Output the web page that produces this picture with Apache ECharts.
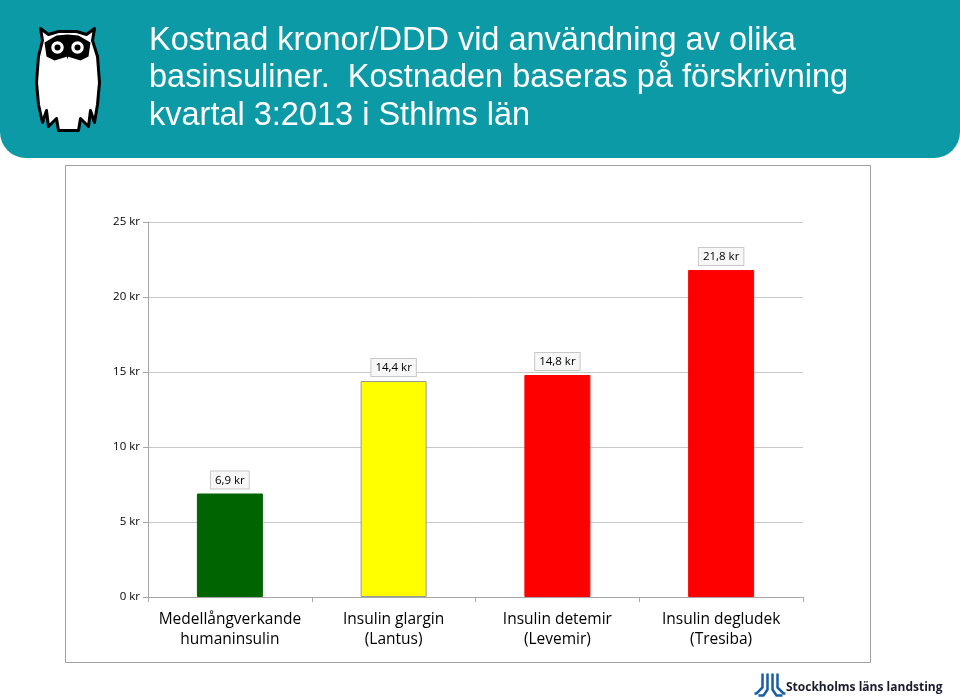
<!DOCTYPE html>
<html><head><meta charset="utf-8">
<script src="https://cdn.jsdelivr.net/npm/echarts@6/dist/echarts.min.js"></script>
<style>html,body{margin:0;padding:0;background:#fff}#c{width:960px;height:699px}</style>
</head><body><div id="c"></div>
<script>
const categories = ['Medellångverkande\nhumaninsulin', 'Insulin glargin\n(Lantus)', 'Insulin detemir\n(Levemir)', 'Insulin degludek\n(Tresiba)'];
const values = [6.9, 14.4, 14.8, 21.8];
const barColors = ['#006400', '#FFFF00', '#FF0000', '#FF0000'];
const titleLines = ['Kostnad kronor/DDD vid användning av olika', 'basinsuliner.  Kostnaden baseras på förskrivning', 'kvartal 3:2013 i Sthlms län'];

const chart = echarts.init(document.getElementById('c'));
const font = '"Open Sans", "Liberation Sans", sans-serif';
chart.setOption({
  animation: false,
  backgroundColor: '#fff',
  grid: { left: 148, right: 157, top: 222, bottom: 102 },
  xAxis: {
    type: 'category', data: categories,
    axisLine: { lineStyle: { color: '#a6a6a6' } },
    axisTick: { show: true, length: 5, lineStyle: { color: '#a6a6a6' } },
    axisLabel: { interval: 0, color: '#000', fontFamily: font, fontSize: 15.5, lineHeight: 20, margin: 13 }
  },
  yAxis: {
    type: 'value', min: 0, max: 25, interval: 5,
    axisLine: { show: true, lineStyle: { color: '#a6a6a6' } },
    axisTick: { show: true, length: 5, lineStyle: { color: '#a6a6a6' } },
    splitLine: { lineStyle: { color: '#c8c8c8' } },
    axisLabel: { color: '#000', fontFamily: font, fontSize: 11.5, margin: 8, formatter: v => v + ' kr' }
  },
  series: [{
    type: 'bar', barWidth: 66,
    data: values.map((v, i) => ({ value: v, itemStyle: { color: barColors[i], borderColor: i === 1 ? '#999' : barColors[i], borderWidth: 1 } })),
    label: {
      show: true, position: 'top', distance: 5,
      formatter: p => String(p.value).replace('.', ',') + ' kr',
      color: '#000', fontFamily: font, fontSize: 11.5,
      backgroundColor: '#f7f7f7', borderColor: '#c8c8c8', borderWidth: 1, padding: [3, 4, 2, 4]
    }
  }],
  graphic: [
    { type: 'rect', shape: { x: 0, y: -30, width: 960, height: 188, r: 26 }, style: { fill: '#0d9aa7' }, z: 0 },
    { type: 'rect', shape: { x: 65.5, y: 165.5, width: 805, height: 497 }, style: { fill: 'none', stroke: '#a0a0a0', lineWidth: 1 }, z: 0 },
    { type: 'text', left: 149, top: 22, style: { text: titleLines.join('\n'), fill: '#fff', font: '32.5px "Liberation Sans", Arial, sans-serif', lineHeight: 37.5 }, z: 5 },
    // owl
    { type: 'group', left: 35, top: 27, z: 5, children: [
      { type: 'polygon', shape: { points: [[4,2],[12,8],[22,5],[40,5],[50,8],[58,2],[56,14],[61,30],[63,56],[61,78],[58,96],[54,84],[52,100],[44,92],[42,104],[22,104],[20,92],[12,100],[10,84],[6,96],[2,78],[0,56],[2,30],[6,14]] }, style: { fill: '#fff', stroke: '#000', lineWidth: 3, lineJoin: 'round' } },
      { type: 'polygon', shape: { points: [[8,16],[20,9],[31,8],[42,9],[54,16],[52,30],[44,34],[31,30],[18,34],[10,30]] }, style: { fill: '#000' } },
      { type: 'circle', shape: { cx: 21, cy: 21, r: 7 }, style: { fill: '#fff', stroke: '#000', lineWidth: 1.5 } },
      { type: 'circle', shape: { cx: 41, cy: 21, r: 7 }, style: { fill: '#fff', stroke: '#000', lineWidth: 1.5 } },
      { type: 'circle', shape: { cx: 21, cy: 21, r: 3 }, style: { fill: '#000' } },
      { type: 'circle', shape: { cx: 41, cy: 21, r: 3 }, style: { fill: '#000' } },
      { type: 'polygon', shape: { points: [[29,25],[33,25],[31,33]] }, style: { fill: '#000' } }
    ]},
    // SLL logo
    { type: 'group', left: 752, top: 671, z: 5, children: [
      { type: 'polyline', shape: { points: [[8,0],[8,14],[2,20],[0,20]] }, style: { stroke: '#1a5ea8', lineWidth: 2.5, fill: 'none' } },
      { type: 'polyline', shape: { points: [[13,0],[13,16],[9,22],[4,22]] }, style: { stroke: '#1a5ea8', lineWidth: 2.5, fill: 'none' } },
      { type: 'polyline', shape: { points: [[18,0],[18,16],[22,22],[28,22]] }, style: { stroke: '#1a5ea8', lineWidth: 2.5, fill: 'none' } },
      { type: 'polyline', shape: { points: [[23,0],[23,14],[29,20],[31,20]] }, style: { stroke: '#1a5ea8', lineWidth: 2.5, fill: 'none' } }
    ]},
    { type: 'text', left: 786, top: 682, style: { text: 'Stockholms läns landsting', fill: '#1a1a2e', font: 'bold 12px "Open Sans", "Liberation Sans", sans-serif' }, z: 5 }
  ]
});
</script></body></html>
